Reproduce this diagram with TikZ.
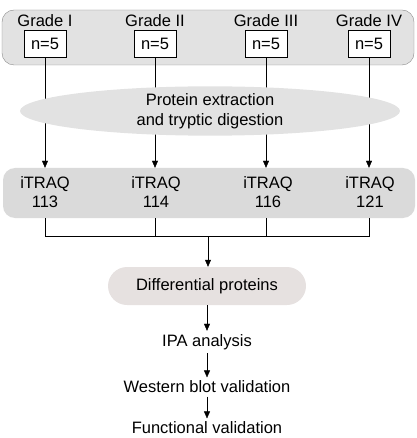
\documentclass[tikz,border=0pt]{standalone}
\usepackage{fontspec}
\setmainfont{Liberation Sans}
\usetikzlibrary{arrows.meta,positioning,shapes.geometric}
\definecolor{panel}{HTML}{E2E2E2}
\definecolor{rim}{HTML}{8A8A8A}
\definecolor{tag}{HTML}{DADADA}
\definecolor{pill}{HTML}{E6E1E0}
\begin{document}
\begin{tikzpicture}[x=1pt,y=-1pt,font=\fontsize{16.5}{19.5}\selectfont,>={Triangle[length=7pt,width=6pt]},
  sample/.style={draw,fill=white,minimum width=42pt,minimum height=27pt,inner sep=0pt},
  label/.style={align=center,inner sep=0pt}]
\useasboundingbox (0,0) rectangle (416,438);
% patient groups
\node[draw=rim,fill=panel,rounded corners=12pt,minimum width=412pt,minimum height=55pt] (groups) at (208,37.5) {};
\node[label] (g1) at (45,21) {Grade I};\node[label] (g2) at (155,21) {Grade II};
\node[label] (g3) at (266,21) {Grade III};\node[label] (g4) at (369,21) {Grade IV};
\node[sample] (n1) at (45,43.5) {n=5};\node[sample] (n2) at (155,43.5) {n=5};
\node[sample] (n3) at (266,43.5) {n=5};\node[sample] (n4) at (369,43.5) {n=5};
% labelling
\node[fill=tag,rounded corners=12pt,minimum width=412pt,minimum height=50pt] (itraq) at (209,193) {};
\node[label] (t1) at (45,192) {iTRAQ\\113};\node[label] (t2) at (156,192) {iTRAQ\\114};
\node[label] (t3) at (268,192) {iTRAQ\\116};\node[label] (t4) at (370,192) {iTRAQ\\121};
\draw[->] (n1.south) -- (n1.south |- itraq.north);\draw[->] (n2.south) -- (n2.south |- itraq.north);
\draw[->] (n3.south) -- (n3.south |- itraq.north);\draw[->] (n4.south) -- (n4.south |- itraq.north);
\node[ellipse,fill=panel,minimum width=380pt,minimum height=44pt,inner sep=0pt,align=center] (digest) at (210,111) {Protein extraction\\and tryptic digestion};
% downstream
\coordinate (join) at (208,236);
\node[fill=pill,rounded corners=19pt,minimum width=198pt,minimum height=38pt] (diff) at (207,286) {Differential proteins};
\node (ipa) at (207,342) {IPA analysis};
\node (wb) at (207,387) {Western blot validation};
\node (func) at (207,428) {Functional validation};
\draw (n1.south |- itraq.south) -- (n1.south |- join) -- (n4.south |- join) -- (n4.south |- itraq.south);
\draw (n2.south |- itraq.south) -- (n2.south |- join);\draw (n3.south |- itraq.south) -- (n3.south |- join);
\draw[->] (join) -- (join |- diff.north);
\draw[->] (diff) -- (ipa);\draw[->] (ipa) -- (wb);\draw[->] (wb) -- (func);
\end{tikzpicture}
\end{document}
